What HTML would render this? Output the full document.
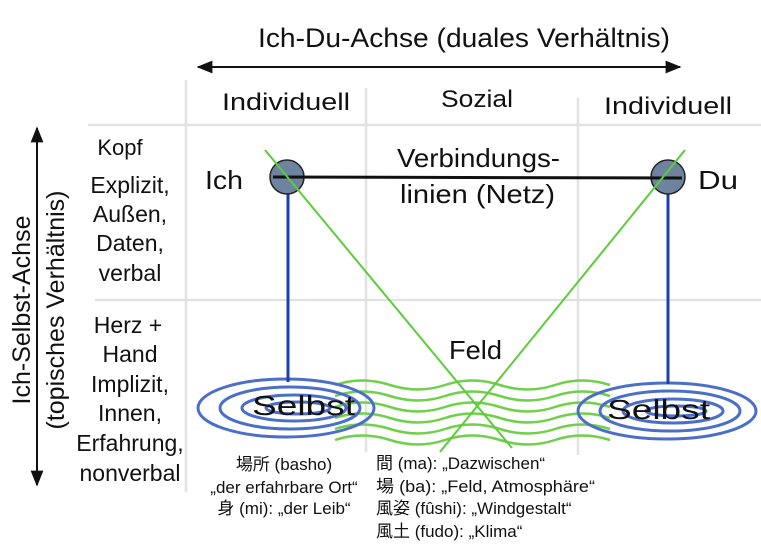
<!DOCTYPE html>
<html><head><meta charset="utf-8"><style>
html,body{margin:0;padding:0;background:#fff;}
svg{display:block;}
text{font-family:"Liberation Sans","Noto Sans CJK JP",sans-serif;fill:#111;}
</style></head><body>
<svg width="761" height="549" viewBox="0 0 761 549" xmlns="http://www.w3.org/2000/svg">
<defs>
<marker id="ah" viewBox="0 0 10 10" refX="9" refY="5" markerWidth="8" markerHeight="8" orient="auto-start-reverse"><path d="M0,1 L10,5 L0,9 z" fill="#111"/></marker>
</defs>
<g stroke="#e2e2e2" stroke-width="2.5">
<line x1="186" y1="80" x2="186" y2="492"/>
<line x1="366" y1="88" x2="366" y2="452"/>
<line x1="578" y1="98" x2="578" y2="455"/>
<line x1="88" y1="125" x2="761" y2="125"/>
<line x1="95" y1="300" x2="761" y2="300"/>
</g>
<line x1="198" y1="67" x2="680" y2="67" stroke="#111" stroke-width="2" marker-start="url(#ah)" marker-end="url(#ah)"/>
<line x1="37" y1="128" x2="37" y2="485" stroke="#111" stroke-width="2" marker-start="url(#ah)" marker-end="url(#ah)"/>
<text x="258" y="47" font-size="27" textLength="412" lengthAdjust="spacingAndGlyphs">Ich-Du-Achse (duales Verhältnis)</text>
<text transform="translate(30,310) rotate(-90)" font-size="25" text-anchor="middle">Ich-Selbst-Achse</text>
<text transform="translate(64,310) rotate(-90)" font-size="25" text-anchor="middle">(topisches Verhältnis)</text>
<g font-size="24">
<text x="222" y="110" textLength="128" lengthAdjust="spacingAndGlyphs">Individuell</text>
<text x="441" y="107" textLength="72" lengthAdjust="spacingAndGlyphs">Sozial</text>
<text x="604" y="114" textLength="128" lengthAdjust="spacingAndGlyphs">Individuell</text>
</g>
<g font-size="22" text-anchor="middle">
<text x="120" y="155">Kopf</text>
<text x="130" y="193" font-size="23">Explizit,</text>
<text x="130" y="222" font-size="23">Außen,</text>
<text x="130" y="251" font-size="23">Daten,</text>
<text x="130" y="281" font-size="23">verbal</text>
<text x="128" y="333" font-size="23">Herz +</text>
<text x="130" y="362" font-size="23">Hand</text>
<text x="130" y="392" font-size="23">Implizit,</text>
<text x="130" y="421" font-size="23">Innen,</text>
<text x="130" y="451" font-size="23">Erfahrung,</text>
<text x="130" y="481" font-size="23">nonverbal</text>
</g>
<g fill="none" stroke="#6fd04a" stroke-width="2.5">
<path d="M335,385 q27,-9 55,0 t55,0 t55,0 t55,0 t55,0"/>
<path d="M335,396 q27,-9 55,0 t55,0 t55,0 t55,0 t55,0"/>
<path d="M335,407 q27,-9 55,0 t55,0 t55,0 t55,0 t55,0"/>
<path d="M335,418 q27,-9 55,0 t55,0 t55,0 t55,0 t55,0"/>
<path d="M335,429 q27,-9 55,0 t55,0 t55,0 t55,0 t55,0"/>
<path d="M335,440 q27,-9 55,0 t55,0 t55,0 t55,0 t55,0"/>
</g>
<g fill="none" stroke="#4b6fc9" stroke-width="3">
<ellipse cx="286" cy="408" rx="88" ry="29"/>
<ellipse cx="290" cy="408" rx="70" ry="21"/>
<ellipse cx="294" cy="408" rx="52" ry="13"/>
<ellipse cx="298" cy="408" rx="32" ry="6"/>
<ellipse cx="667" cy="411" rx="89" ry="28"/>
<ellipse cx="670" cy="411" rx="70" ry="20"/>
<ellipse cx="673" cy="411" rx="50" ry="12"/>
<ellipse cx="676" cy="411" rx="30" ry="5"/>
</g>
<line x1="288" y1="190" x2="288" y2="382" stroke="#1a3fb0" stroke-width="3"/>
<line x1="668" y1="190" x2="668" y2="384" stroke="#1a3fb0" stroke-width="3"/>
<circle cx="287" cy="177" r="17" fill="#6e83a0" stroke="#222" stroke-width="1.5"/>
<circle cx="668" cy="177" r="17" fill="#6e83a0" stroke="#222" stroke-width="1.5"/>
<line x1="273" y1="177" x2="682" y2="178" stroke="#111" stroke-width="3"/>
<line x1="265" y1="150" x2="512" y2="448" stroke="#5ccc3a" stroke-width="2"/>
<line x1="685" y1="150" x2="440" y2="452" stroke="#5ccc3a" stroke-width="2"/>
<g font-size="26">
<text x="205" y="189" textLength="38" lengthAdjust="spacingAndGlyphs">Ich</text>
<text x="698" y="189" textLength="40" lengthAdjust="spacingAndGlyphs">Du</text>
<text x="397" y="167" textLength="163" lengthAdjust="spacingAndGlyphs">Verbindungs-</text>
<text x="400" y="203" textLength="155" lengthAdjust="spacingAndGlyphs">linien (Netz)</text>
<text x="449" y="359" textLength="53" lengthAdjust="spacingAndGlyphs">Feld</text>
<text x="252" y="415" font-size="28" textLength="103" lengthAdjust="spacingAndGlyphs">Selbst</text>
<text x="607" y="419" font-size="28" textLength="103" lengthAdjust="spacingAndGlyphs">Selbst</text>
</g>
<g font-size="17">
<text x="284" y="470" text-anchor="middle">場所 (basho)</text>
<text x="284" y="493" text-anchor="middle">„der erfahrbare Ort“</text>
<text x="284" y="514" text-anchor="middle">身 (mi): „der Leib“</text>
<text x="376" y="469">間 (ma): „Dazwischen“</text>
<text x="376" y="492" textLength="219" lengthAdjust="spacingAndGlyphs">場 (ba): „Feld, Atmosphäre“</text>
<text x="376" y="514">風姿 (fûshi): „Windgestalt“</text>
<text x="376" y="537">風土 (fudo): „Klima“</text>
</g>
</svg>
</body></html>
